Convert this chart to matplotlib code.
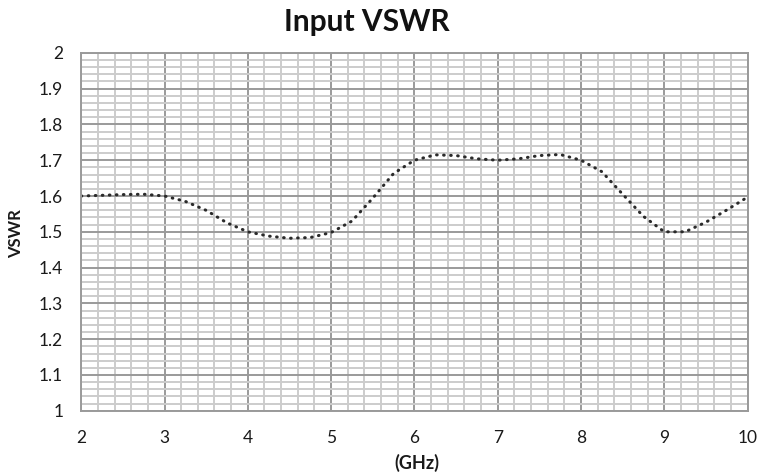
import matplotlib.pyplot as plt
from matplotlib.ticker import MultipleLocator, FormatStrFormatter

# data (GHz vs VSWR)
freq = [2, 2.25, 2.5, 2.75, 3, 3.25, 3.5, 3.75, 4, 4.25, 4.5, 4.75, 5,
        5.25, 5.5, 5.75, 6, 6.25, 6.5, 6.75, 7, 7.25, 7.5, 7.75, 8,
        8.25, 8.5, 8.75, 9, 9.25, 9.5, 9.75, 10]
vswr = [1.600, 1.602, 1.604, 1.605, 1.600, 1.585, 1.560, 1.525, 1.500,
        1.488, 1.482, 1.484, 1.498, 1.530, 1.594, 1.663, 1.700, 1.715,
        1.713, 1.704, 1.700, 1.704, 1.713, 1.716, 1.700, 1.668, 1.605,
        1.543, 1.500, 1.500, 1.527, 1.561, 1.597]

plt.rcParams['font.family'] = ['Lato', 'DejaVu Sans']

fig = plt.figure(figsize=(7.59, 4.76), dpi=100)
ax = fig.add_axes([0.107, 0.137, 0.878, 0.752])

ax.plot(freq, vswr, color='#2a2a2a', linewidth=2.2,
        linestyle=(0, (0.2, 2.1)), dash_capstyle='round')

ax.set_xlim(2, 10)
ax.set_ylim(1, 2)
ax.xaxis.set_major_locator(MultipleLocator(1))
ax.xaxis.set_minor_locator(MultipleLocator(0.2))
ax.yaxis.set_major_locator(MultipleLocator(0.1))
ax.yaxis.set_minor_locator(MultipleLocator(0.02))
ax.yaxis.set_major_formatter(FormatStrFormatter('%g'))

# grid
ax.grid(which='minor', color='#cccccc', linewidth=1.4)
ax.grid(which='major', color='#9a9a9a', linewidth=1.4)
ax.set_axisbelow(True)
for s in ax.spines.values():
    s.set_color('#9a9a9a')
    s.set_linewidth(1.4)

ax.tick_params(which='both', length=0)
ax.tick_params(axis='x', pad=14, labelsize=12.5, colors='#1a1a1a')
ax.tick_params(axis='y', pad=13, labelsize=12.5, colors='#1a1a1a')

# labels
fig.text(0.483, 0.953, 'Input VSWR', ha='center', va='center',
         fontsize=21.5, fontweight='bold', color='#111111')
fig.text(0.549, 0.027, '(GHz)', ha='center', va='center',
         fontsize=13, fontweight='bold', color='#1a1a1a')
fig.text(0.021, 0.51, 'VSWR', ha='center', va='center', rotation=90,
         fontsize=12, fontweight='bold', color='#1a1a1a')

plt.savefig('out.png', dpi=100)
